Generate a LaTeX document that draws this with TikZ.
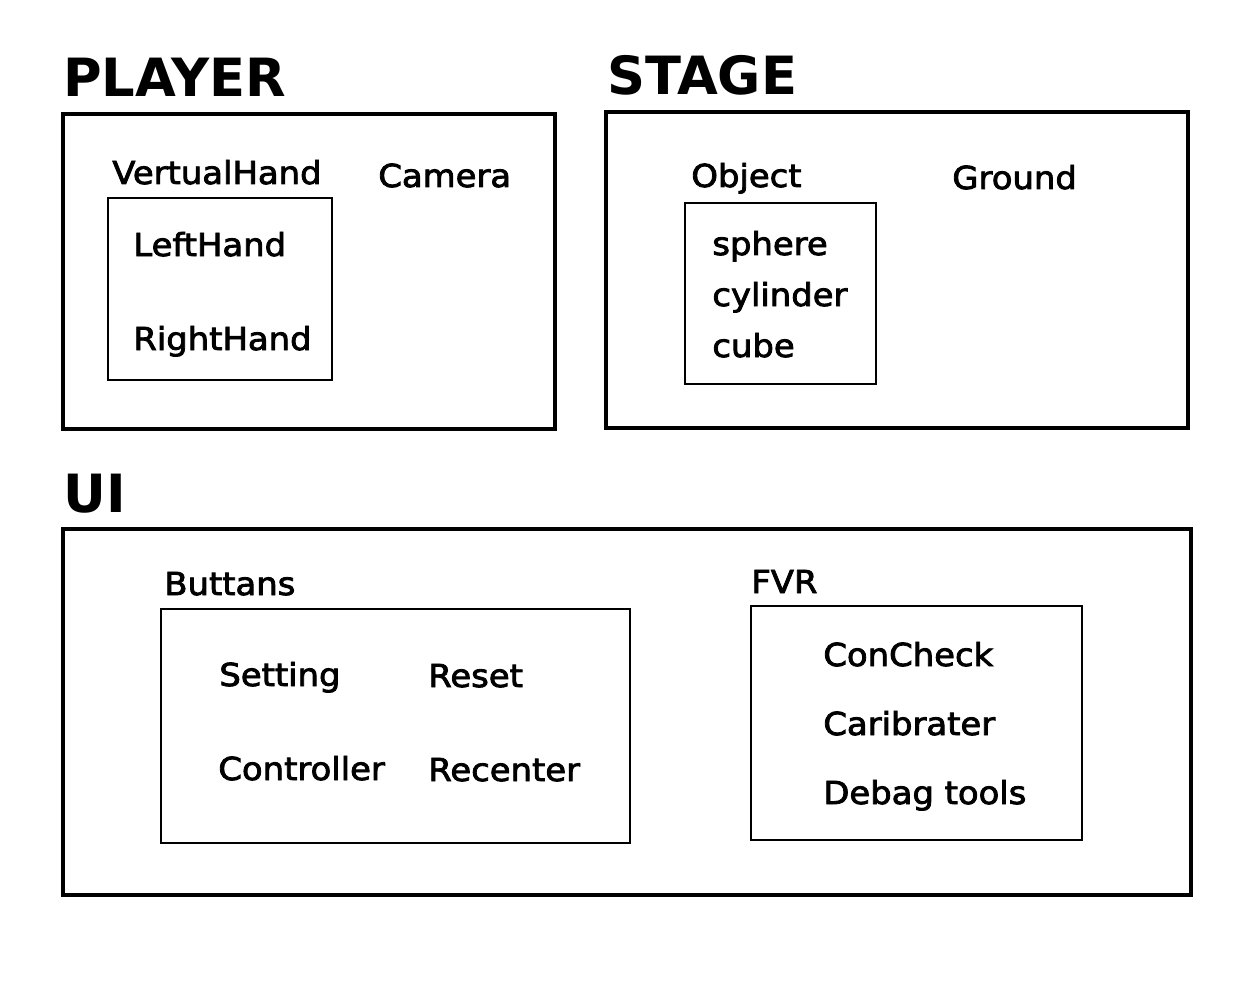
\documentclass[tikz,border=0pt]{standalone}
\usepackage{fontspec}
\setmainfont{DejaVu Sans}
\newfontfamily\labfont{DejaVu Sans}[FakeBold=2.6,FakeStretch=1.07]
\begin{document}
\begin{tikzpicture}[x=0.02cm,y=-0.02cm,
  outer/.style={draw=black,line width=1.8pt},
  inner/.style={draw=black,line width=0.9pt},
  title/.style={anchor=base west,inner sep=0pt,font=\fontsize{30}{36}\selectfont\bfseries},
  lbl/.style={anchor=base west,inner sep=0pt,font=\labfont\fontsize{18}{22}\selectfont}]
\useasboundingbox (0,0) rectangle (1240,1000);
% titles
\node[title] (tplayer) at (63,97) {PLAYER};
\node[title] (tstage) at (607,95) {STAGE};
\node[title] (tui) at (63,512) {UI};
% outer boxes
\draw[outer] (63,114) rectangle (555,429);
\draw[outer] (606,112) rectangle (1188,428);
\draw[outer] (63,529) rectangle (1191,895);
% inner boxes
\draw[inner] (108,198) rectangle (332,380);
\draw[inner] (685,203) rectangle (876,384);
\draw[inner] (161,609) rectangle (630,843);
\draw[inner] (751,606) rectangle (1082,840);
% PLAYER labels
\node[lbl] (vh) at (112,184) {VertualHand};
\node[lbl] (cam) at (378,187) {Camera};
\node[lbl] (lh) at (133,256) {LeftHand};
\node[lbl] (rh) at (133,350) {RightHand};
% STAGE labels
\node[lbl] (obj) at (691,187) {Object};
\node[lbl] (gnd) at (952,189) {Ground};
\node[lbl] (sph) at (712,255) {sphere};
\node[lbl] (cyl) at (712,306) {cylinder};
\node[lbl] (cube) at (712,357) {cube};
% UI labels
\node[lbl] (but) at (164,595) {Buttans};
\node[lbl] (fvr) at (751,593) {FVR};
\node[lbl] (set) at (219,686) {Setting};
\node[lbl] (res) at (428,687) {Reset};
\node[lbl] (con) at (218,780) {Controller};
\node[lbl] (rec) at (428,781) {Recenter};
\node[lbl] (cc) at (823,666) {ConCheck};
\node[lbl] (cal) at (823,735) {Caribrater};
\node[lbl] (dbg) at (823,804) {Debag tools};
\end{tikzpicture}
\end{document}
